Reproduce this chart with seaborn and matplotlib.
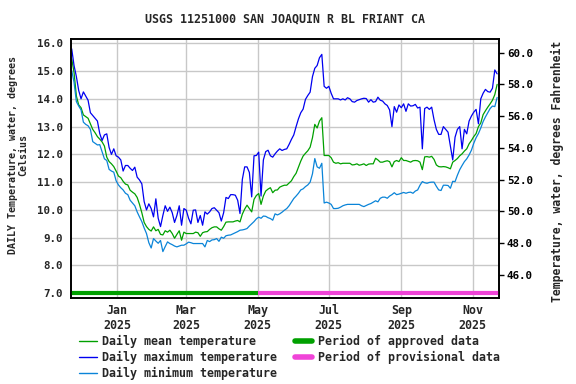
import seaborn as sns
import matplotlib.pyplot as plt
from matplotlib.lines import Line2D
import pandas as pd

sns.set_style("white")
plt.rcParams["font.family"] = ["DejaVu Sans Mono", "DejaVu Sans"]
plt.rcParams["font.weight"] = "bold"

# every second day, 2024-11-23 .. 2025-11-22
dates = pd.date_range("2024-11-23", periods=183, freq="2D")

max_temp = [
    15.8, 15.2, 14.8, 14.3, 14.0, 14.25, 14.1, 13.95, 13.5, 13.4,
    13.3, 13.2, 12.75, 12.5, 12.7, 12.74, 12.25, 12.0, 12.2, 11.95,
    11.9, 11.8, 11.4, 11.6, 11.6, 11.5, 11.42, 11.54, 11.18, 11.08,
    10.94, 10.3, 10.0, 10.22, 10.05, 9.75, 10.4, 9.7, 9.4, 9.8,
    10.15, 9.95, 10.1, 9.9, 9.55, 9.8, 10.15, 9.45, 10.05, 9.99,
    9.7, 9.5, 9.99, 10.0, 9.55, 9.8, 9.45, 9.93, 9.85, 9.93,
    10.05, 10.08, 9.99, 9.9, 9.6, 9.9, 10.45, 10.41, 10.55, 10.55,
    10.53, 10.35, 9.87, 11.1, 11.55, 11.55, 11.35, 10.47, 11.95, 11.96,
    12.08, 10.5, 11.8, 12.1, 12.15, 11.95, 11.9, 12.02, 12.12, 12.2,
    12.14, 12.18, 12.2, 12.36, 12.54, 12.7, 13.0, 13.28, 13.5, 13.63,
    13.98, 14.12, 14.24, 14.8, 15.1, 15.2, 15.48, 15.6, 14.45, 14.38,
    14.45, 14.2, 14.0, 14.0, 14.0, 13.96, 14.0, 13.96, 14.04, 14.0,
    13.9, 13.88, 13.94, 13.97, 14.0, 14.02, 14.01, 13.88, 13.97, 13.88,
    13.9, 14.06, 13.95, 13.92, 13.82, 13.76, 13.6, 13.0, 13.72, 13.52,
    13.78, 13.68, 13.82, 13.55, 13.82, 13.74, 13.75, 13.8, 13.67, 13.7,
    12.2, 13.65, 13.7, 13.62, 13.7, 13.25, 12.9, 12.72, 12.72, 13.0,
    12.9, 12.8, 12.3, 11.8, 12.62, 12.9, 13.0, 12.2, 12.9, 12.74,
    13.2, 13.38, 13.52, 13.62, 13.1, 14.0, 14.2, 14.34, 14.26, 14.24,
    14.38, 15.04, 14.9,
]

mean_temp = [
    15.44, 14.95, 14.1, 13.78, 13.68, 13.42, 13.36, 13.3, 13.1, 12.9,
    12.78, 12.64, 12.55, 12.45, 12.3, 11.9, 11.74, 11.66, 11.56, 11.4,
    11.22, 11.16, 11.03, 10.93, 10.9, 10.71, 10.64, 10.58, 10.45, 10.2,
    9.9, 9.55, 9.4, 9.3, 9.24, 9.39, 9.25, 9.3, 9.12, 9.1,
    9.25, 9.2, 9.27, 9.15, 8.98, 9.12, 9.25, 8.91, 9.2, 9.15,
    9.15, 9.15, 9.15, 9.2, 9.18, 9.05, 9.18, 9.21, 9.22, 9.3,
    9.36, 9.39, 9.39, 9.32, 9.27, 9.4, 9.56, 9.57, 9.57, 9.57,
    9.6, 9.62, 9.57, 9.85, 10.03, 10.17, 10.05, 9.93, 10.38, 10.52,
    10.59, 10.2, 10.5, 10.68, 10.75, 10.8, 10.62, 10.71, 10.72, 10.82,
    10.86, 10.89, 10.89, 10.97, 11.05, 11.2, 11.32, 11.54, 11.76, 11.94,
    12.04, 12.13, 12.26, 12.6, 13.08, 12.95, 13.2, 13.32, 11.96, 11.96,
    11.96, 11.88, 11.72, 11.68, 11.7, 11.66, 11.68, 11.68, 11.68, 11.68,
    11.62, 11.63, 11.66, 11.61, 11.63, 11.66, 11.6, 11.65, 11.66, 11.66,
    11.86, 11.8, 11.72, 11.72, 11.75, 11.77, 11.74, 11.55, 11.74, 11.78,
    11.74, 11.88, 11.78, 11.78, 11.75, 11.72, 11.77, 11.78, 11.77, 11.72,
    11.45, 11.91, 11.92, 11.9, 11.93, 11.82, 11.62, 11.56, 11.55, 11.56,
    11.55, 11.52, 11.48, 11.72, 11.78, 11.85, 11.95, 12.02, 12.12, 12.2,
    12.38, 12.5, 12.64, 12.75, 13.0, 13.13, 13.43, 13.57, 13.7, 13.82,
    13.95, 14.15, 14.52,
]

min_temp = [
    15.02, 14.6, 13.9, 13.74, 13.6, 13.16, 13.08, 13.03, 12.9, 12.46,
    12.4, 12.34, 12.35, 12.1, 11.84, 11.78, 11.46, 11.4, 11.36, 11.05,
    10.9, 10.8, 10.72, 10.6, 10.55, 10.35, 10.25, 10.15, 9.93, 9.75,
    9.58, 9.35, 9.15, 8.82, 8.63, 8.97, 8.88, 8.8, 8.9, 8.5,
    8.68, 8.85, 8.79, 8.75, 8.7, 8.67, 8.7, 8.73, 8.73, 8.78,
    8.84, 8.82, 8.79, 8.79, 8.79, 8.79, 8.79, 8.67, 8.9, 8.86,
    8.92, 8.93, 8.97, 8.87, 9.02, 8.98, 9.07, 9.09, 9.1, 9.14,
    9.18, 9.22, 9.27, 9.28, 9.3, 9.33, 9.42, 9.5, 9.58, 9.68,
    9.74, 9.7, 9.78, 9.77, 9.72, 9.69, 9.63, 9.86, 9.82, 9.86,
    9.92, 9.99, 10.05, 10.15, 10.28, 10.41, 10.5, 10.6, 10.72, 10.76,
    10.84, 10.9, 11.0, 11.3, 11.85, 11.55, 11.5, 11.68, 10.25, 10.28,
    10.25, 10.2, 10.05, 10.05, 10.06, 10.1, 10.15, 10.18, 10.2, 10.2,
    10.2, 10.2, 10.2, 10.2, 10.15, 10.12, 10.16, 10.2, 10.23, 10.28,
    10.33, 10.29, 10.42, 10.46, 10.46, 10.42, 10.5, 10.55, 10.62, 10.55,
    10.57, 10.6, 10.63, 10.6, 10.63, 10.64, 10.6, 10.68, 10.72, 10.89,
    11.02, 10.98, 10.96, 10.99, 11.0, 11.0, 10.85, 10.72, 10.7, 10.89,
    10.89, 10.88, 10.78, 11.03, 11.02, 11.25, 11.45, 11.6, 11.74, 11.84,
    11.98, 12.15, 12.4, 12.6, 12.75, 12.95, 13.18, 13.35, 13.5, 13.65,
    13.74, 13.72, 14.05,
]

period_start = pd.Timestamp("2024-11-22 16:00")
approved_end = pd.Timestamp("2025-05-01")
period_end = pd.Timestamp("2025-11-23 20:00")

month_ticks = pd.to_datetime(["2025-01-01", "2025-03-01", "2025-05-01",
                              "2025-07-01", "2025-09-01", "2025-11-01"])
month_labels = ["Jan\n2025", "Mar\n2025", "May\n2025",
                "Jul\n2025", "Sep\n2025", "Nov\n2025"]

c_mean = "#00a000"
c_max = "#0000f0"
c_min = "#0a84d8"
c_appr = "#00a000"
c_prov = "#f044d8"

fig = plt.figure(figsize=(5.76, 3.84), dpi=100)
ax = fig.add_axes([0.1238, 0.224, 0.743, 0.6745])

ax.grid(True, color="#c8c8c8", linewidth=1.0)
ax.set_axisbelow(True)

sns.lineplot(x=dates, y=mean_temp, ax=ax, color=c_mean, linewidth=0.9)
sns.lineplot(x=dates, y=max_temp, ax=ax, color=c_max, linewidth=0.9)
sns.lineplot(x=dates, y=min_temp, ax=ax, color=c_min, linewidth=0.9)

# approval status bars along the bottom
ax.plot([period_start, approved_end], [7.0, 7.0], color=c_appr, lw=3,
        solid_capstyle="butt", zorder=5)
ax.plot([approved_end, period_end], [7.0, 7.0], color=c_prov, lw=3,
        solid_capstyle="butt", zorder=5)

ax.set_xlim(period_start, period_end)
ax.set_ylim(6.83, 16.155)
ax.set_yticks([7, 8, 9, 10, 11, 12, 13, 14, 15, 16])
ax.yaxis.set_major_formatter(plt.FormatStrFormatter("%.1f"))
ax.set_xticks(month_ticks)
ax.set_xticklabels(month_labels)
ax.tick_params(axis="y", length=0, pad=6, labelsize=7.8)
ax.tick_params(axis="x", length=0, pad=4, labelsize=8.4)
ax.set_xlabel("")
ax.set_ylabel("")
for s in ax.spines.values():
    s.set_color("black")
    s.set_linewidth(1.2)

ax2 = ax.twinx()
ax2.set_ylim(44.55, 60.86)
ax2.set_yticks([46, 48, 50, 52, 54, 56, 58, 60])
ax2.yaxis.set_major_formatter(plt.FormatStrFormatter("%.1f"))
ax2.tick_params(axis="y", length=3.5, width=1, pad=2, labelsize=7.8,
                direction="out", colors="black")
ax2.grid(False)
for s in ax2.spines.values():
    s.set_color("black")
    s.set_linewidth(1.2)

fig.text(0.494, 1 - 19 / 384, "USGS 11251000 SAN JOAQUIN R BL FRIANT CA",
         ha="center", va="center", fontsize=8.4, fontweight="bold")
fig.text(18 / 576, 1 - 155 / 384, "DAILY Temperature, water, degrees\nCelsius",
         ha="center", va="center", rotation=90, fontsize=7.2,
         fontweight="bold", multialignment="center", linespacing=1.1)
fig.text(557 / 576, 1 - 171 / 384, "Temperature, water, degrees Fahrenheit",
         ha="center", va="center", rotation=90, fontsize=8.3,
         fontweight="bold")

handles = [
    Line2D([], [], color=c_mean, lw=1),
    Line2D([], [], color=c_max, lw=1),
    Line2D([], [], color=c_min, lw=1),
    Line2D([], [], color=c_appr, lw=4),
    Line2D([], [], color=c_prov, lw=4),
]
labels = ["Daily mean temperature", "Daily maximum temperature",
          "Daily minimum temperature", "Period of approved data",
          "Period of provisional data"]
fig.legend(handles, labels, ncol=2, loc="upper left",
           bbox_to_anchor=(79 / 576, 1 - 335 / 384), frameon=False,
           fontsize=8.4, handlelength=1.5, handletextpad=0.5,
           columnspacing=1.5, labelspacing=0.25, borderpad=0,
           borderaxespad=0)

fig.savefig("out.png", dpi=100)
